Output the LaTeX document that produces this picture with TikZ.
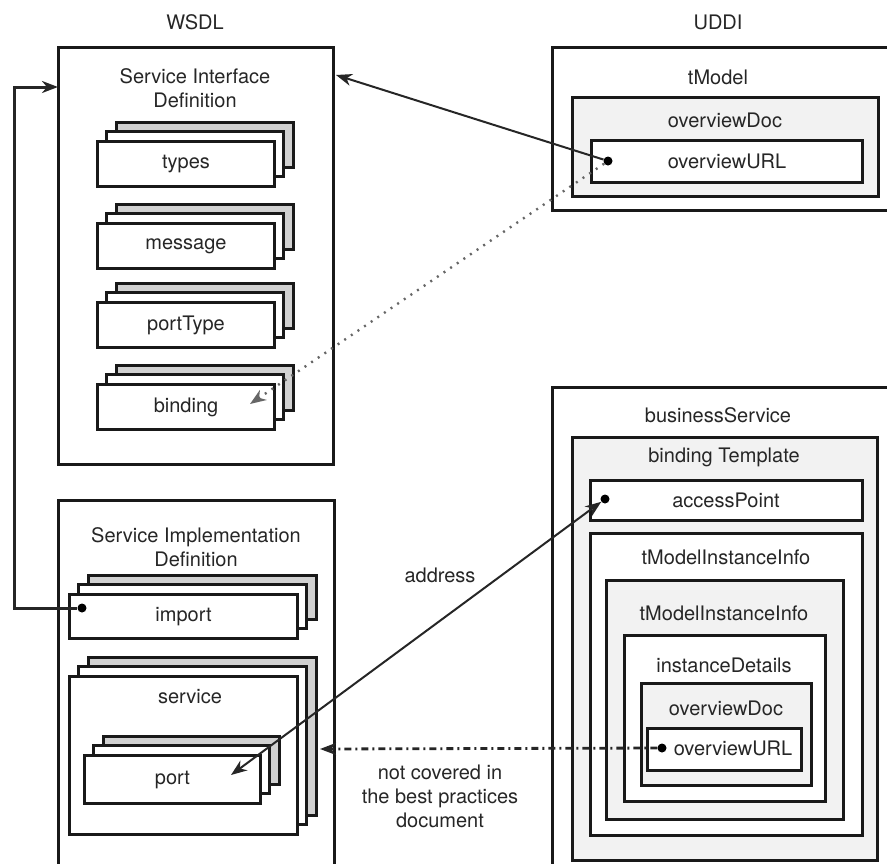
\documentclass[tikz,border=0pt]{standalone}
\usepackage{fontspec}
\setmainfont{TeX Gyre Heros}
\usetikzlibrary{arrows.meta,fit}

\begin{document}
\begin{tikzpicture}[
            x=1pt, y=-1pt,
            every node/.style={
              font=\fontsize{20}{24}\selectfont,
              text=black!85
            },
            lbl/.style={
              align=center
            },
            boxframe/.style={draw=black!90, line width=3pt, inner sep=0pt},
            lite/.style={boxframe, fill=black!5},
            backbox/.style={boxframe, fill=black!18},
            stk/.style={boxframe, fill=white, anchor=north west},
            dotnode/.style={circle, fill=black, inner sep=0pt, minimum size=9pt},
            conn/.style={line width=2pt, draw=black!85},
            arr/.style={-{Stealth[length=16pt,width=12pt,inset=5pt]}},
            arrs/.style={{Stealth[length=16pt,width=12pt,inset=5pt]}-{Stealth[length=16pt,width=12pt,inset=5pt]}}
        ]
\useasboundingbox (0,0) rectangle (887,863);
\clip (0,0) rectangle (887,863);

\node (wsdl) at (195,22) {WSDL};
\node (uddi) at (718,22) {UDDI};

% WSDL: interface definition
\node[boxframe, fit={(58,47) (333,464)}] (sid) {};
\node[lbl] (sidlbl) at (195,88) {Service Interface\\Definition};

\foreach \n/\x/\y/\w/\h in {types/96/140/177/45, message/96/222/177/45,
    portType/96/301/177/45, binding/96/383/177/45, import/68/593/228/44}{
    \draw[backbox] (\x+20,\y-18) rectangle +(\w,\h);
    \draw[boxframe, fill=white] (\x+10,\y-9) rectangle +(\w,\h);
    \node[stk, minimum width=\w pt, minimum height=\h pt] (\n) at (\x,\y) {\n};
}

% WSDL: implementation definition
\node[boxframe, fit={(58,500) (334,890)}] (sim) {};
\node[lbl] (simlbl) at (196,547) {Service Implementation\\Definition};
\node[dotnode] (impdot) at (82,608) {};

\draw[backbox] (88,657) rectangle +(228,158);
\draw[boxframe, fill=white] (78,666) rectangle +(228,158);
\node[stk, minimum width=228pt, minimum height=158pt] (service) at (68,675) {};
\node (servicelbl) at (190,697) {service};

\draw[backbox] (103,736) rectangle +(176,48);
\draw[boxframe, fill=white] (93,745) rectangle +(176,48);
\node[stk, minimum width=176pt, minimum height=48pt] (port) at (83,754) {port};

% UDDI: tModel
\node[boxframe, fit={(552,47) (900,210)}] (tmodel) {};
\node (tmodellbl) at (718,77) {tModel};
\node[lite, fit={(572,97) (878,196)}] (ovdoc) {};
\node (ovdoclbl) at (725,120) {overviewDoc};
\node[boxframe, fill=white, fit={(591,140) (862,182)}] (ovurl) {};
\node (ovurllbl) at (727,161) {overviewURL};
\node[dotnode] (ovdot) at (608,161) {};

% UDDI: businessService
\node[boxframe, fit={(552,387) (900,890)}] (bsvc) {};
\node (bsvclbl) at (718,415) {businessService};
\node[lite, fit={(572,437) (877,860)}] (btpl) {};
\node (btpllbl) at (724,457) {binding Template};
\node[boxframe, fill=white, fit={(590,480) (862,520)}] (ap) {};
\node (aplbl) at (726,500) {accessPoint};
\node[dotnode] (apdot) at (605,499) {};
\node[boxframe, fill=white, fit={(590,533) (862,835)}] (tmii) {};
\node (tmiilbl) at (726,557) {tModelInstanceInfo};
\node[lite, fit={(606,580) (843,819)}] (tmiib) {};
\node (tmiiblbl) at (724,613) {tModelInstanceInfo};
\node[boxframe, fill=white, fit={(624,635) (825,801)}] (idet) {};
\node (idetlbl) at (724,665) {instanceDetails};
\node[lite, fit={(641,683) (811,785)}] (ovdocb) {};
\node (ovdocblbl) at (726,708) {overviewDoc};
\node[boxframe, fill=white, fit={(647,728) (801,770)}] (ovurlb) {};
\node (ovurlblbl) at (733,748) {overviewURL};
\node[dotnode] (ovdotb) at (662,748) {};

% connectors
\coordinate (sidin) at (336,75);
\coordinate (bindin) at (250,404);
\coordinate (bend) at (14,87);
\coordinate (sidleft) at (58,87);
\coordinate (portin) at (231,775);
\coordinate (simin) at (320,749);

\draw[conn, arr] (ovdot) -- (sidin);
\draw[conn, draw=black!60, line width=2.4pt, dash pattern=on 2pt off 6pt, arr] (ovdot) -- (bindin);
\draw[conn, line width=3pt, arr] (impdot) -| (bend) -- (sidleft);
\draw[conn, arrs] (apdot) -- (portin);
\draw[conn, line width=2.8pt, dash pattern=on 7pt off 4pt on 2pt off 4pt, arr] (ovdotb) -- (simin);

\node (addr) at (440,575) {address};
\node[lbl] (nc) at (440,796) {not covered in\\the best practices\\document};

\end{tikzpicture}
\end{document}
